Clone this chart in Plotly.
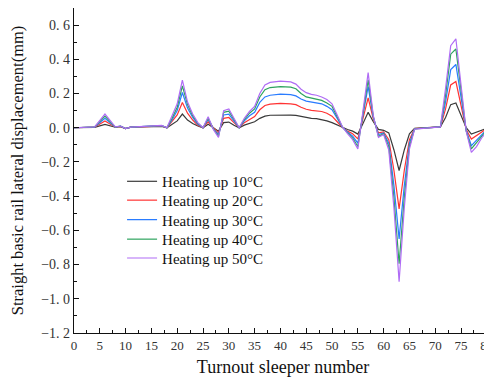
import plotly.graph_objects as go

sleeper = [0, 4, 6, 8, 9, 10, 11, 17, 18, 19, 20, 21, 22, 23, 24, 25, 26, 27, 28, 29, 30, 31, 32,
           33, 34, 35, 36, 37, 38, 40, 42, 43, 44, 45, 46, 47, 48, 49, 50, 51, 52, 53, 54, 55,
           56, 57, 58, 59, 60, 61, 62, 63, 64, 65, 66, 70, 71, 72, 73, 74, 75, 76, 77, 78, 79,
           80, 81]

heat10 = [0, 0.002, 0.02, 0.003, 0.006, -0.005, 0.003, 0.008, 0, 0.02, 0.04, 0.08, 0.045, 0.025,
          0.01, 0, 0.02, 0, -0.02, 0.03, 0.033, 0.015, 0,
          0.015, 0.025, 0.035, 0.055, 0.068, 0.073, 0.075, 0.074, 0.072, 0.065, 0.058, 0.055,
          0.053, 0.048, 0.04, 0.03, 0.015, 0.002, -0.01, -0.02, -0.037,
          0.025, 0.09, 0.035, -0.01, -0.015, -0.03, -0.13, -0.25, -0.13, -0.035, -0.003, 0.002,
          0.005, 0.06, 0.135, 0.145, 0.07, 0.0, -0.037, -0.025, -0.015, -0.003, 0]

heat20 = [0, 0.003, 0.04, 0.003, 0.008, -0.005, 0.003, 0.01, 0, 0.035, 0.075, 0.147, 0.085, 0.045,
          0.015, 0, 0.035, 0, -0.03, 0.055, 0.06, 0.03, 0,
          0.03, 0.05, 0.065, 0.105, 0.13, 0.138, 0.142, 0.14, 0.135, 0.12, 0.108, 0.102,
          0.1, 0.095, 0.085, 0.068, 0.035, 0.003, -0.02, -0.035, -0.065,
          0.055, 0.175, 0.05, -0.03, -0.025, -0.07, -0.25, -0.474, -0.25, -0.07, -0.005, 0.002,
          0.005, 0.11, 0.25, 0.27, 0.13, -0.01, -0.066, -0.045, -0.025, -0.005, 0]

heat30 = [0, 0.004, 0.055, 0.003, 0.009, -0.005, 0.003, 0.012, 0, 0.045, 0.1, 0.206, 0.115, 0.06,
          0.02, 0, 0.048, -0.005, -0.04, 0.075, 0.08, 0.04, 0,
          0.04, 0.07, 0.09, 0.148, 0.18, 0.19, 0.196, 0.194, 0.186, 0.168, 0.156, 0.15,
          0.147, 0.14, 0.125, 0.105, 0.055, 0.004, -0.025, -0.05, -0.09,
          0.075, 0.24, 0.06, -0.04, -0.03, -0.09, -0.34, -0.65, -0.34, -0.09, -0.006, 0.002,
          0.005, 0.15, 0.34, 0.37, 0.18, -0.015, -0.105, -0.075, -0.04, -0.01, 0]

heat40 = [0, 0.005, 0.068, 0.004, 0.01, -0.005, 0.003, 0.013, 0, 0.055, 0.12, 0.245, 0.135, 0.07,
          0.025, 0, 0.056, -0.005, -0.05, 0.09, 0.097, 0.05, 0,
          0.048, 0.085, 0.11, 0.18, 0.222, 0.235, 0.24, 0.237, 0.228, 0.2, 0.18, 0.172,
          0.168, 0.16, 0.145, 0.125, 0.065, 0.005, -0.03, -0.06, -0.11,
          0.09, 0.28, 0.065, -0.05, -0.035, -0.11, -0.41, -0.795, -0.41, -0.11, -0.007, 0.002,
          0.005, 0.19, 0.43, 0.46, 0.22, -0.02, -0.124, -0.09, -0.05, -0.012, 0]

heat50 = [0, 0.005, 0.08, 0.005, 0.01, -0.005, 0.003, 0.014, 0, 0.065, 0.14, 0.278, 0.15, 0.08,
          0.03, 0, 0.064, -0.01, -0.056, 0.1, 0.11, 0.055, 0,
          0.055, 0.095, 0.125, 0.2, 0.25, 0.265, 0.272, 0.268, 0.255, 0.225, 0.205, 0.195,
          0.19, 0.18, 0.165, 0.14, 0.075, 0.006, -0.035, -0.07, -0.124,
          0.1, 0.322, 0.07, -0.056, -0.04, -0.13, -0.47, -0.9, -0.47, -0.125, -0.008, 0.002,
          0.005, 0.23, 0.48, 0.52, 0.25, -0.02, -0.144, -0.11, -0.06, -0.02, 0]

names = ["Heating up 10°C", "Heating up 20°C", "Heating up 30°C",
         "Heating up 40°C", "Heating up 50°C"]
colors = ["#3a3a3a", "#ff3333", "#2a7cff", "#2ea35e", "#b06cf5"]

y_tickvals = [-1.2, -1.0, -0.8, -0.6, -0.4, -0.2, 0.0, 0.2, 0.4, 0.6]
y_ticktext = ["\u22121. 2", "\u22121. 0", "\u22120. 8", "\u22120. 6", "\u22120. 4",
              "\u22120. 2", "0. 0", "0. 2", "0. 4", "0. 6"]
x_tickvals = list(range(0, 81, 5))

serif = "Liberation Serif, Times New Roman, serif"
legend_ids = ["legend", "legend2", "legend3", "legend4", "legend5"]
legend_y = [0.466, 0.408, 0.348, 0.288, 0.230]

fig = go.Figure()
for nm, ys, c, lg in zip(names, [heat10, heat20, heat30, heat40, heat50], colors, legend_ids):
    fig.add_trace(go.Scatter(x=sleeper, y=ys, mode="lines", name=nm, legend=lg,
                             line=dict(color=c, width=1.2)))

legend_common = dict(x=0.115, xanchor="left", yanchor="middle", bgcolor="rgba(0,0,0,0)",
                     font=dict(size=15, family=serif, color="#111111"), itemwidth=30,
                     borderwidth=0)
layout_legends = {}
for lg, ly in zip(legend_ids, legend_y):
    layout_legends[lg] = dict(legend_common, y=ly)

# the page body has an 8px default margin, so the figure is sized to fill the rest
fig.update_layout(
    width=484, height=372,
    margin=dict(l=66, r=0, t=0, b=47),
    paper_bgcolor="white", plot_bgcolor="white",
    font=dict(family=serif, color="#222222"),
    showlegend=True,
    **layout_legends,
)
fig.update_xaxes(
    range=[0, 81], tickvals=x_tickvals, ticktext=[str(v) for v in x_tickvals],
    ticks="inside", ticklen=5, tickwidth=1, tickcolor="#111111",
    minor=dict(dtick=2.5, tick0=0, ticks="inside", ticklen=3, tickwidth=1, tickcolor="#111111"),
    showline=True, linecolor="#111111", linewidth=1.3, showgrid=False, zeroline=False,
    tickfont=dict(size=13, family=serif, color="#333333"), automargin=False,
    ticklabeloverflow="allow",
    title=dict(text="Turnout sleeper number", font=dict(size=18, family=serif, color="#111111"),
               standoff=8),
)
fig.update_yaxes(
    range=[-1.2, 0.7], tickvals=y_tickvals, ticktext=y_ticktext,
    ticks="inside", ticklen=5, tickwidth=1, tickcolor="#111111",
    minor=dict(dtick=0.1, tick0=0, ticks="inside", ticklen=3, tickwidth=1, tickcolor="#111111"),
    showline=True, linecolor="#111111", linewidth=1.3, showgrid=False, zeroline=False,
    tickfont=dict(size=14, family=serif, color="#333333"), automargin=False,
    title=dict(text="Straight basic rail lateral displacement(mm)",
               font=dict(size=16.5, family=serif, color="#111111"), standoff=14),
)
fig.write_html("out.html")
